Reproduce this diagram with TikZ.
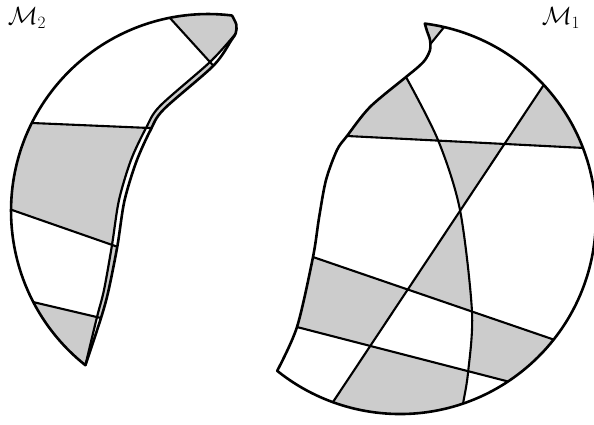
\documentclass[tikz,border=0pt]{standalone}
\def\MonePath{(424.8,23.6) arc[start angle=-82.7, end angle=128.8, radius=196] -- plot[smooth] coordinates {(277.2,370.8) (297,327) (313,257) (319,218) (326,180) (337,150) (347,136) (370,107) (406,77) (417,68) (425,60) (430,50) (430,40) (427,31) (424.8,23.6)} -- cycle}
\def\leftC{(406,-10) -- plot[smooth] coordinates {(406,77) (438,140) (460,210) (472,312) (468,373) (463,404) (461,420)} -- (461,450) -- (200,450) -- (200,-10) -- cycle}
\def\rightC{(406,-10) -- plot[smooth] coordinates {(406,77) (438,140) (460,210) (472,312) (468,373) (463,404) (461,420)} -- (461,450) -- (650,450) -- (650,-10) -- cycle}
\def\aboveLone{(250,131.1) -- (650,151.3) -- (650,-10) -- (250,-10) -- cycle}
\def\belowLone{(250,131.1) -- (650,151.3) -- (650,450) -- (250,450) -- cycle}
\def\leftLtwo{(606.8,-10) -- (301.1,450) -- (250,450) -- (250,-10) -- cycle}
\def\rightLtwo{(606.8,-10) -- (301.1,450) -- (650,450) -- (650,-10) -- cycle}
\def\aboveLthree{(250,235.4) -- (650,372.6) -- (650,-10) -- (250,-10) -- cycle}
\def\belowLthree{(250,235.4) -- (650,372.6) -- (650,450) -- (250,450) -- cycle}
\def\aboveLfour{(250,314.9) -- (650,418.1) -- (650,-10) -- (250,-10) -- cycle}
\def\belowLfour{(250,314.9) -- (650,418.1) -- (650,450) -- (250,450) -- cycle}
\def\MtwoPath{(85.4,365.2) arc[start angle=128.5, end angle=277, radius=197] -- plot[smooth] coordinates {(232,15.5) (236.3,24.5) (235.8,33) (231.5,40) (213.4,65.7) (163.6,109.5) (150.3,130.5) (136.2,162) (124.4,201) (117.4,246) (108.4,291) (101,318) (85.4,365.2)} -- cycle}
\def\rightInner{(262,5) -- plot[smooth] coordinates {(235,34.5) (210,62) (160,106) (146,128) (131,160) (119,200) (112,245) (104,290) (97,317) (85.4,365.2)} -- (85.4,450) -- (300,450) -- (300,5) -- cycle}
\def\Tzero{(144.5,-10) -- (300,161) -- (300,-10) -- cycle}
\def\Tone{(144.5,-10) -- (274.9,133.4) -- (-10,121.2) -- (-10,-10) -- cycle}
\def\Ttwo{(-10,121.2) -- (300,134.4) -- (300,310.5) -- (-10,202.3) -- cycle}
\def\Tthree{(-10,202.3) -- (300,310.5) -- (300,364.8) -- (-10,291.9) -- cycle}
\def\Tfour{(-10,291.9) -- (300,364.8) -- (300,450) -- (-10,450) -- cycle}
\begin{document}
\begin{tikzpicture}[x=1pt,y=-1pt,
  bnd/.style={line width=2.6pt, line join=round},
  tileline/.style={line width=2.1pt},
  shade/.style={fill=black!20}]
\useasboundingbox (0,0) rectangle (594,424);
% ---------- M1 ----------
\begin{scope}
  \clip \MonePath;
  \fill[shade] (452.8,16.4) -- (425.5,50) -- (400,50) -- (400,0) -- (452.8,0) -- cycle;
  \begin{scope}\clip \leftC; \fill[shade] \aboveLone; \end{scope}
  \begin{scope}\clip \rightLtwo; \fill[shade] \aboveLone; \end{scope}
  \begin{scope}\clip \rightC; \clip \leftLtwo; \fill[shade] \belowLone; \end{scope}
  \begin{scope}\clip \leftC; \clip \rightLtwo; \fill[shade] \aboveLthree; \end{scope}
  \begin{scope}\clip \leftLtwo; \clip \belowLthree; \fill[shade] \aboveLfour; \end{scope}
  \begin{scope}\clip \rightC; \clip \belowLthree; \fill[shade] \aboveLfour; \end{scope}
  \begin{scope}\clip \rightLtwo; \clip \leftC; \fill[shade] \belowLfour; \end{scope}
  \draw[tileline] (452.8,16.4) -- (425.5,50);
  \draw[tileline] (250,131.1) -- (650,151.3);
  \draw[tileline] (606.8,-10) -- (301.1,450);
  \draw[tileline] (250,235.4) -- (650,372.6);
  \draw[tileline] (250,314.9) -- (650,418.1);
  \draw[tileline] plot[smooth] coordinates {(406,77) (438,140) (460,210) (472,312) (468,373) (463,404) (461,420)};
\end{scope}
\draw[bnd] \MonePath;
% ---------- M2 ----------
\begin{scope}
  \clip \MtwoPath;
  \fill[shade] \Tzero; \fill[shade] \Ttwo; \fill[shade] \Tfour;
  \begin{scope}
    \clip \rightInner;
    \fill[white] \Tzero; \fill[white] \Ttwo; \fill[white] \Tfour;
    \fill[shade] \Tone; \fill[shade] \Tthree;
  \end{scope}
  \draw[tileline] (144.5,-10) -- (244.5,100);
  \draw[tileline] (-10,121.2) -- (300,134.4);
  \draw[tileline] (-10,202.3) -- (300,310.5);
  \draw[tileline] (-10,291.9) -- (300,364.8);
\end{scope}
\draw[line width=2.2pt] plot[smooth] coordinates {(235,34.5) (210,62) (160,106) (146,128) (131,160) (119,200) (112,245) (104,290) (97,317) (85.4,365.2)};
\draw[bnd] \MtwoPath;
% ---------- labels ----------
\node[font=\fontsize{26}{30}\selectfont, inner sep=0pt] (lbltwo) at (27,18) {$\mathcal{M}_2$};
\node[font=\fontsize{26}{30}\selectfont, inner sep=0pt] (lblone) at (561,18) {$\mathcal{M}_1$};
\end{tikzpicture}
\end{document}
